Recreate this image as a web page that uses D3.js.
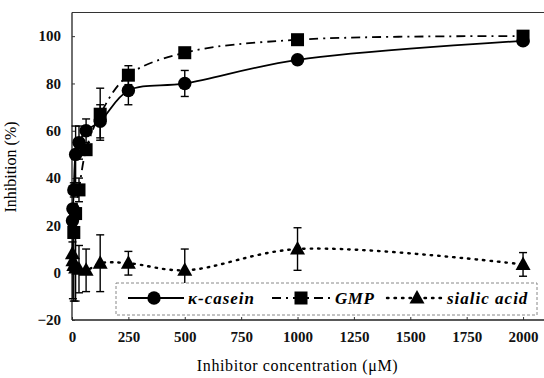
<!DOCTYPE html>
<html>
<head>
<meta charset="utf-8">
<script src="https://cdn.jsdelivr.net/npm/d3@7"></script>
</head>
<body style="margin:0;background:#fff">
<svg id="fig" width="544" height="378"></svg>
<script>
// Data (concentration in uM, inhibition in %)
const caseinConc = [2, 4, 8, 16, 31, 62.5, 125, 250, 500, 1000, 2000];
const caseinVals = [22, 27, 35, 50, 55, 60, 64, 77, 80, 90, 98];
const caseinErr  = [0, 0, 3, 12, 7, 5, 7, 6, 5.5, 0, 0];

const gmpConc = [8, 16, 31, 62.5, 125, 250, 500, 1000, 2000];
const gmpVals = [17, 25, 35, 52, 67, 83.5, 93, 98.5, 100];
const gmpErr  = [0, 0, 5, 0, 11, 4, 0, 0, 0];

const sialicConc = [2, 4, 8, 16, 31, 62.5, 125, 250, 500, 1000, 2000];
const sialicVals = [8, 5, 3, 2, 1.5, 1, 4, 4, 1, 10, 3.5];
const sialicErr  = [5, 16, 15, 14, 10, 9, 12, 5, 9, 9, 5];

const xTicks = [0, 250, 500, 750, 1000, 1250, 1500, 1750, 2000];
const yTicks = [-20, 0, 20, 40, 60, 80, 100];

const seriesNames = ["\u03ba-casein", "GMP", "sialic acid"];

const serif = "'Liberation Serif'";

// Scales
const x = d3.scaleLinear().domain([0, 2100]).range([72, 545.6]);
const y = d3.scaleLinear().domain([-20, 110]).range([320, 12.5]);

const svg = d3.select("#fig");

// Frame: top line (the right edge runs off the picture)
svg.append("line")
  .attr("x1", 72).attr("x2", 544).attr("y1", y(110)).attr("y2", y(110))
  .attr("stroke", "#333").attr("stroke-width", 1.2);

const xAxis = d3.axisBottom(x).tickValues(xTicks).tickFormat(d3.format("d")).tickSize(-3).tickPadding(11);
const yAxis = d3.axisLeft(y).tickValues(yTicks).tickFormat(d3.format("d")).tickSize(-3).tickPadding(11);

const gx = svg.append("g")
  .attr("transform", "translate(0," + y(-20) + ")")
  .call(xAxis)
  .attr("font-family", null).attr("font-size", null);
gx.select(".domain").attr("d", "M72,0H544").attr("stroke", "#222").attr("stroke-width", 1.3);

const gy = svg.append("g")
  .attr("transform", "translate(" + x(0) + ",0)")
  .call(yAxis)
  .attr("font-family", null).attr("font-size", null);
gy.select(".domain").attr("d", "M0," + y(-20) + "V" + y(110)).attr("stroke", "#222").attr("stroke-width", 1.3);

svg.selectAll(".tick line").attr("stroke", "#333");
svg.selectAll(".tick text")
  .attr("font-size", 15)
  .attr("font-weight", "bold")
  .style("font-family", serif)
  .attr("fill", "#111");

// Axis titles
svg.append("text")
  .attr("x", x(1000)).attr("y", 371)
  .attr("text-anchor", "middle")
  .attr("font-size", 16)
  .attr("letter-spacing", 0.6)
  .style("font-family", serif)
  .text("Inhibitor concentration (\u03bcM)");

svg.append("text")
  .attr("transform", "translate(16,167) rotate(-90)")
  .attr("text-anchor", "middle")
  .attr("font-size", 16)
  .style("font-family", serif)
  .text("Inhibition (%)");

// Series setup
const series = [
  { conc: caseinConc, vals: caseinVals, err: caseinErr, dash: null, shape: "circle" },
  { conc: gmpConc, vals: gmpVals, err: gmpErr, dash: "9,5,2,5", shape: "square" },
  { conc: sialicConc, vals: sialicVals, err: sialicErr, dash: "1.5,6", shape: "triangle" }
];

const line = d3.line()
  .x(d => x(d[0]))
  .y(d => y(d[1]))
  .curve(d3.curveCatmullRom.alpha(0.5));

function drawMarker(g, shape, cx, cy) {
  if (shape === "circle") {
    g.append("circle").attr("cx", cx).attr("cy", cy).attr("r", 6.7).attr("fill", "#000");
  } else if (shape === "square") {
    g.append("rect").attr("x", cx - 6.5).attr("y", cy - 6.5)
      .attr("width", 13).attr("height", 13).attr("fill", "#000");
  } else {
    g.append("path")
      .attr("d", `M${cx},${cy - 8}L${cx + 7.5},${cy + 5.5}L${cx - 7.5},${cy + 5.5}Z`)
      .attr("fill", "#000");
  }
}

// Lines
series.forEach(s => {
  const pts = s.conc.map((c, i) => [c, s.vals[i]]);
  svg.append("path")
    .datum(pts)
    .attr("d", line)
    .attr("fill", "none")
    .attr("stroke", "#000")
    .attr("stroke-width", s.shape === "triangle" ? 2.4 : 1.8)
    .attr("stroke-linecap", s.shape === "triangle" ? "round" : "butt")
    .attr("stroke-dasharray", s.dash);
});

// Error bars
series.forEach(s => {
  const g = svg.append("g").attr("stroke", "#000").attr("stroke-width", 1.4);
  s.conc.forEach((c, i) => {
    if (!s.err[i]) return;
    const cx = x(c), lo = y(s.vals[i] - s.err[i]), hi = y(s.vals[i] + s.err[i]);
    g.append("line").attr("x1", cx).attr("x2", cx).attr("y1", lo).attr("y2", hi);
    g.append("line").attr("x1", cx - 4).attr("x2", cx + 4).attr("y1", lo).attr("y2", lo);
    g.append("line").attr("x1", cx - 4).attr("x2", cx + 4).attr("y1", hi).attr("y2", hi);
  });
});

// Markers
series.forEach(s => {
  const g = svg.append("g");
  s.conc.forEach((c, i) => drawMarker(g, s.shape, x(c), y(s.vals[i])));
});

// Legend
const legend = svg.append("g");
legend.append("rect")
  .attr("x", 116).attr("y", 283).attr("width", 421).attr("height", 32)
  .attr("fill", "#fff")
  .attr("stroke", "#888").attr("stroke-width", 1)
  .attr("stroke-dasharray", "3,2");

const legendItems = [
  { x1: 128, x2: 184, mx: 154, tx: 188 },
  { x1: 272, x2: 333, mx: 301, tx: 335 },
  { x1: 387, x2: 444, mx: 417, tx: 447 }
];
const ly = 298;
legendItems.forEach((it, i) => {
  const s = series[i];
  legend.append("line")
    .attr("x1", it.x1).attr("x2", it.x2).attr("y1", ly).attr("y2", ly)
    .attr("stroke", "#000")
    .attr("stroke-width", s.shape === "triangle" ? 2.4 : 1.8)
    .attr("stroke-linecap", s.shape === "triangle" ? "round" : "butt")
    .attr("stroke-dasharray", s.dash);
  drawMarker(legend, s.shape, it.mx, ly);
  legend.append("text")
    .attr("x", it.tx).attr("y", ly + 6)
    .attr("font-size", 17)
    .attr("font-weight", "bold")
    .attr("font-style", "italic")
    .attr("letter-spacing", i === 1 ? 0.5 : 1)
    .style("font-family", serif)
    .text(seriesNames[i]);
});
</script>
</body>
</html>
